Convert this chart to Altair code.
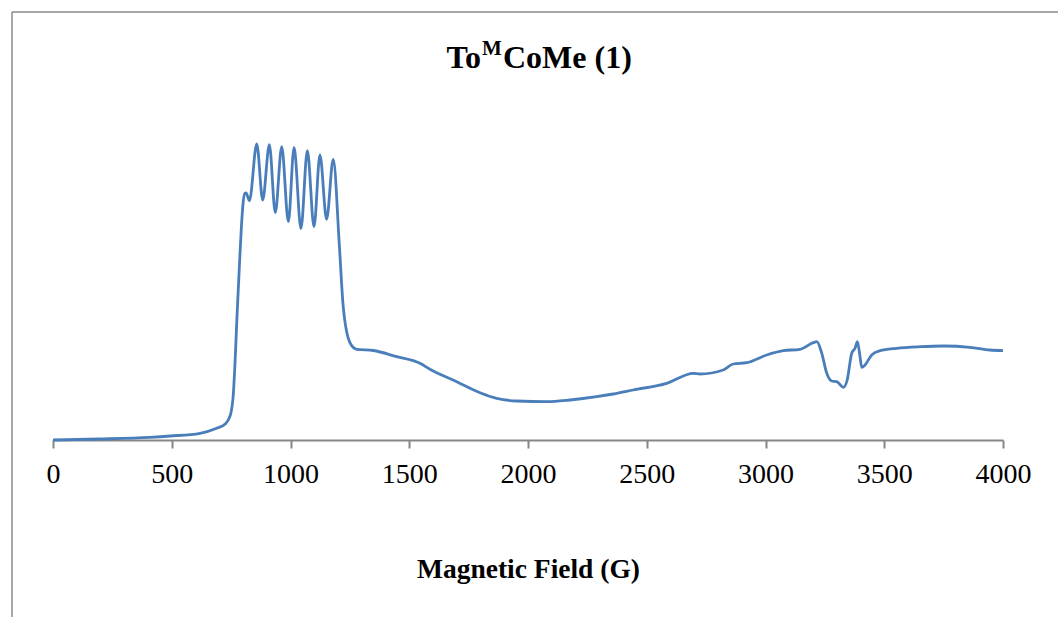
import altair as alt
import pandas as pd

# Magnetic field (G) and EPR signal (arbitrary units)
field = [0, 198, 408, 493, 619, 689, 725, 740, 750, 758, 766, 775, 785, 793, 800,
         808, 813, 827, 858, 883, 911, 936, 963, 991, 1015, 1044, 1071, 1099, 1124,
         1152, 1180, 1206, 1222, 1251, 1279, 1349, 1447, 1545, 1587, 1700, 1798,
         1868, 1952, 2079, 2177, 2289, 2359, 2443, 2584, 2696, 2724, 2822, 2864,
         2921, 3005, 3075, 3145, 3201, 3216, 3237, 3258, 3279, 3300, 3328, 3344,
         3363, 3377, 3387, 3398, 3405, 3419, 3447, 3482, 3552, 3651, 3749, 3861,
         3945, 4000]
signal = [0, 1, 2.7, 4, 6.7, 11.7, 16, 21, 28, 42, 75, 125, 175, 212, 236,
          246.7, 247, 239.3, 296, 240, 295.3, 227.3, 293.3, 218.3, 292.7, 211.3,
          289.3, 213.3, 285, 220.7, 280.7, 193.3, 133.3, 97, 90.7, 89.5, 83.3,
          76.7, 70.7, 58.3, 47.3, 41.7, 39, 38.3, 40, 43.3, 46, 50, 56.7, 66.7,
          66, 70, 76, 77.3, 85, 89.3, 90.7, 97.3, 98.3, 86.7, 66.7, 59, 58.3,
          52.7, 60, 86.7, 91.7, 98.3, 83.3, 72.7, 75, 85, 89.3, 91.7, 93.3, 94,
          92.7, 90, 89.3]
tick_values = [0, 500, 1000, 1500, 2000, 2500, 3000, 3500, 4000]

title_main = "To"
title_sup = "M"
title_rest = "CoMe (1)"
x_title = "Magnetic Field (G)"

df = pd.DataFrame({"field": field, "signal": signal})
one = pd.DataFrame({"k": [0]})

FONT = "Liberation Serif"

line = alt.Chart(df).mark_line(
    color="#4A7EBB", strokeWidth=2.8, interpolate="monotone"
).encode(
    x=alt.X("field:Q",
            scale=alt.Scale(domain=[0, 4000], nice=False, zero=False),
            axis=alt.Axis(values=tick_values, format="d", title=x_title, grid=False,
                          domainColor="#868686", domainWidth=2,
                          tickColor="#868686", tickWidth=2, tickSize=8,
                          labelFont=FONT, labelFontSize=28, labelColor="black",
                          labelBaseline="alphabetic", labelPadding=34,
                          labelFlush=False,
                          titleFont=FONT, titleFontSize=27.5, titleFontWeight="bold",
                          titleColor="black", titleBaseline="alphabetic",
                          titleY=137)),
    y=alt.Y("signal:Q", scale=alt.Scale(domain=[0, 340], nice=False), axis=None),
)

t1 = alt.Chart(one).mark_text(
    text=title_main, font=FONT, fontSize=32, fontWeight="bold",
    align="right", baseline="alphabetic", color="black"
).encode(x=alt.value(428), y=alt.value(-32))
t2 = alt.Chart(one).mark_text(
    text=title_sup, font=FONT, fontSize=21, fontWeight="bold",
    align="center", baseline="alphabetic", color="black"
).encode(x=alt.value(439), y=alt.value(-45))
t3 = alt.Chart(one).mark_text(
    text=title_rest, font=FONT, fontSize=32, fontWeight="bold",
    align="left", baseline="alphabetic", color="black"
).encode(x=alt.value(450), y=alt.value(-32))

frame_left = alt.Chart(one).mark_rule(color="#8a8a8a", strokeWidth=1.5).encode(
    x=alt.value(-41), y=alt.value(-88), y2=alt.value(530))
frame_top = alt.Chart(one).mark_rule(color="#8a8a8a", strokeWidth=1.5).encode(
    x=alt.value(-41), x2=alt.value(1020), y=alt.value(-88))

chart = alt.layer(frame_left, frame_top, line, t1, t2, t3).properties(
    width=950, height=340,
    autosize=alt.AutoSizeParams(type="none"),
    padding={"left": 53, "top": 100, "right": 55, "bottom": 177},
    background="white",
).configure_view(stroke=None)

chart.save("out.html", embed_options={"renderer": "svg", "actions": False})
